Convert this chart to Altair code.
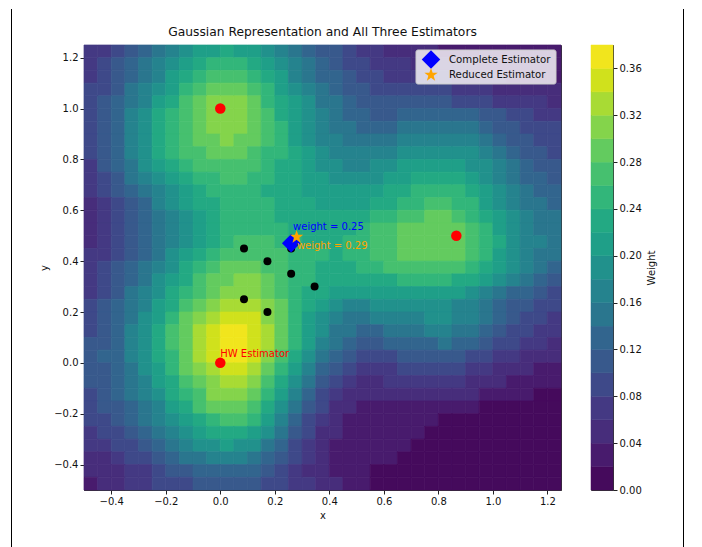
import altair as alt
import pandas as pd

TITLE = "Gaussian Representation and All Three Estimators"
FONT = "DejaVu Sans"

# Contour band (0-i = 0.00-0.02 ... 0.36-0.38),
# one string per 0.05-wide row, top row first.
BANDS = [
    "33456 789aa baa98 76554 33222 21111 11111",
    "34567 89abc ccba9 87654 43332 22221 11111",
    "34567 8abcd ddcba 87665 44333 33222 21111",
    "44578 9acde eedca 98765 54444 44333 22222",
    "45678 abdef ffecb a9776 55555 55444 33332",
    "45689 bcdef ffedb a9876 65566 66665 54433",
    "45689 bcdef ffedc a9877 66677 77776 55444",
    "45689 bcdee feedc a9887 77788 88887 65544",
    "45689 bcdde eedcc ba988 88899 99998 76554",
    "35679 abcdd dddcb ba998 899aa aaa99 87655",
    "34578 9abcc ddccb baa99 99aab bbba9 87665",
    "34567 89abc cccbb baaaa aabbc cccba 98766",
    "23456 89abb ccccb bbaaa abbcc ddcca 98776",
    "23456 789ab ccccb bbbbb bccdd eedcb a9877",
    "23456 789ab ccccc bbbbb cddee eeedc a9877",
    "23456 789ab cdddc cbbbc cddee eeedc b9887",
    "33456 79abc ddddd cccbc cddee eeedc a9877",
    "34567 89bcd eeedd ccbbb ccddd dddcb a9876",
    "34567 9abde effed ccbbb bbbcc ccbba 98765",
    "34578 9bcde fffed cbbaa aaaaa aaa98 76654",
    "45678 abdef gggfe cba98 89999 99887 65544",
    "45679 acefg hhhfe ca987 78888 99887 65443",
    "45689 bdegh iihge ca977 66777 88776 54433",
    "55689 bdegh iihge ca876 55666 67665 44332",
    "56689 bcegh iihfd b9765 44455 55544 33222",
    "55679 acefg hhgec a8654 33344 44433 22211",
    "55678 abdef ggfdb 97543 22333 33322 21111",
    "45678 9bcdf ffeca 86432 22222 22221 11100",
    "45567 8abde eedb9 75422 11111 11110 00000",
    "44567 89abc ddca8 64321 11111 10000 00000",
    "34456 789ab bba97 54221 11111 00000 00000",
    "33445 67899 a9976 43211 11110 00000 00000",
    "22344 56778 88765 43211 11100 00000 00000",
    "22233 45566 66654 32211 10000 00000 00000",
    "12233 44455 55544 33221 10000 00000 00000",
]
BAND_COLORS = ["#450a5c", "#481b6d", "#472d7b", "#443983", "#3e4989", "#38598c",
               "#32658e", "#2a768e", "#25838e", "#21918c", "#1f9f88", "#23a983",
               "#32b67a", "#46c06f", "#63cb5f", "#84d44b", "#a8db34", "#d0e11c",
               "#f1e51d"]
DIGITS = "0123456789abcdefghi"

X_TICKS = [-0.4, -0.2, 0.0, 0.2, 0.4, 0.6, 0.8, 1.0, 1.2]
Y_TICKS = [-0.4, -0.2, 0.0, 0.2, 0.4, 0.6, 0.8, 1.0, 1.2]
BAR_TICKS = [0.0, 0.04, 0.08, 0.12, 0.16, 0.20, 0.24, 0.28, 0.32, 0.36]

RED_X = [0.0, 0.0, 0.866]
RED_Y = [0.0, 1.0, 0.5]
BLACK_X = [0.087, 0.173, 0.26, 0.26, 0.346, 0.087, 0.173]
BLACK_Y = [0.45, 0.40, 0.45, 0.35, 0.30, 0.25, 0.20]
COMPLETE = (0.26, 0.47)
REDUCED = (0.28, 0.495)
LABELS = [("weight = 0.25", 0.267, 0.534, "blue"),
          ("weight = 0.29", 0.281, 0.46, "orange"),
          ("HW Estimator", 0.0, 0.035, "red")]
STAR = "M0,-1 L0.235,-0.324 L0.951,-0.309 L0.38,0.124 L0.588,0.809 L0,0.4 L-0.588,0.809 L-0.38,0.124 L-0.951,-0.309 L-0.235,-0.324 Z"

W, H = 477, 445
rows = []
for r, text in enumerate(BANDS):
    text = text.replace(" ", "")
    assert len(text) == 35, (r, len(text))
    for c, ch in enumerate(text):
        rows.append({"x": -0.5 + 0.05 * c, "x2": -0.45 + 0.05 * c,
                     "y": 1.25 - 0.05 * r, "y2": 1.2 - 0.05 * r,
                     "band": DIGITS.index(ch)})
cells = pd.DataFrame(rows)

xs = alt.Scale(domain=[-0.5, 1.25], nice=False, zero=False)
ys = alt.Scale(domain=[-0.5, 1.25], nice=False, zero=False)
band_scale = alt.Scale(domain=list(range(19)), range=BAND_COLORS)
band_color = alt.Color("band:O", scale=band_scale, legend=None)
band_stroke = alt.Stroke("band:O", scale=band_scale, legend=None)

field = alt.Chart(cells).mark_rect(strokeWidth=0.7).encode(
    x=alt.X("x:Q", scale=xs, title="x",
            axis=alt.Axis(values=X_TICKS, format=".1f", grid=False, labelFlush=False)),
    x2="x2:Q",
    y=alt.Y("y:Q", scale=ys, title="y",
            axis=alt.Axis(values=Y_TICKS, format=".1f", grid=False)),
    y2="y2:Q",
    color=band_color,
    stroke=band_stroke,
)

red = alt.Chart(pd.DataFrame({"x": RED_X, "y": RED_Y})).mark_point(
    filled=True, shape="circle", size=110, color="red", opacity=1).encode(
    x=alt.X("x:Q", scale=xs), y=alt.Y("y:Q", scale=ys))
black = alt.Chart(pd.DataFrame({"x": BLACK_X, "y": BLACK_Y})).mark_point(
    filled=True, shape="circle", size=64, color="black", opacity=1).encode(
    x=alt.X("x:Q", scale=xs), y=alt.Y("y:Q", scale=ys))
complete = alt.Chart(pd.DataFrame({"x": [COMPLETE[0]], "y": [COMPLETE[1]]})).mark_point(
    filled=True, shape="diamond", size=340, color="blue", opacity=1).encode(
    x=alt.X("x:Q", scale=xs), y=alt.Y("y:Q", scale=ys))
reduced = alt.Chart(pd.DataFrame({"x": [REDUCED[0]], "y": [REDUCED[1]]})).mark_point(
    filled=True, shape=STAR, size=196, color="orange", opacity=1).encode(
    x=alt.X("x:Q", scale=xs), y=alt.Y("y:Q", scale=ys))
notes = alt.Chart(pd.DataFrame(LABELS, columns=["t", "x", "y", "c"])).mark_text(
    align="left", baseline="middle", fontSize=10, font=FONT).encode(
    x=alt.X("x:Q", scale=xs), y=alt.Y("y:Q", scale=ys), text="t:N",
    color=alt.Color("c:N", scale=None, legend=None))

# title, legend box, frame: decoration placed in pixels
title_mark = alt.Chart(pd.DataFrame({"t": [TITLE]})).mark_text(
    align="center", baseline="middle", fontSize=12.3, font=FONT, color="#111").encode(
    x=alt.value(W / 2), y=alt.value(-13), text="t:N")
legend_box = alt.Chart(pd.DataFrame({"a": [0]})).mark_rect(
    fill="white", fillOpacity=0.8, stroke="#cccccc", strokeWidth=1, cornerRadius=2).encode(
    x=alt.value(332), x2=alt.value(472), y=alt.value(5), y2=alt.value(39))
leg_d = alt.Chart(pd.DataFrame({"a": [0]})).mark_point(
    filled=True, shape="diamond", size=340, color="blue", opacity=1).encode(
    x=alt.value(347), y=alt.value(14.5))
leg_s = alt.Chart(pd.DataFrame({"a": [0]})).mark_point(
    filled=True, shape=STAR, size=196, color="orange", opacity=1).encode(
    x=alt.value(347), y=alt.value(30))
leg_t1 = alt.Chart(pd.DataFrame({"t": ["Complete Estimator"]})).mark_text(
    align="left", baseline="middle", fontSize=10.2, font=FONT, color="#111").encode(
    x=alt.value(365), y=alt.value(14.5), text="t:N")
leg_t2 = alt.Chart(pd.DataFrame({"t": ["Reduced Estimator"]})).mark_text(
    align="left", baseline="middle", fontSize=10.2, font=FONT, color="#111").encode(
    x=alt.value(365), y=alt.value(29.5), text="t:N")
frame = [
    alt.Chart(pd.DataFrame({"a": [0]})).mark_rule(color="black", strokeWidth=1).encode(
        x=alt.value(-72.5), y=alt.value(-36), y2=alt.value(502.5)),
    alt.Chart(pd.DataFrame({"a": [0]})).mark_rule(color="black", strokeWidth=1).encode(
        x=alt.value(599.5), y=alt.value(-36), y2=alt.value(502.5)),
    alt.Chart(pd.DataFrame({"a": [0]})).mark_rule(color="black", strokeWidth=1).encode(
        x=alt.value(-72.5), x2=alt.value(599.5), y=alt.value(502.5)),
]

main = alt.layer(field, red, black, complete, reduced, notes, title_mark, legend_box, leg_d, leg_s,
                 leg_t1, leg_t2, *frame).properties(width=W, height=H)

bar = pd.DataFrame({"band": list(range(19)),
                    "y": [0.02 * i for i in range(19)],
                    "y2": [0.02 * (i + 1) for i in range(19)]})
colorbar = alt.Chart(bar).mark_rect(strokeWidth=0.5).encode(
    y=alt.Y("y:Q", scale=alt.Scale(domain=[0, 0.38], nice=False), title="Weight",
            axis=alt.Axis(orient="right", values=BAR_TICKS, format=".2f", grid=False,
                          titleAngle=270, titlePadding=15)),
    y2="y2:Q",
    color=band_color,
    stroke=band_stroke,
).properties(width=22, height=H)

chart = alt.hconcat(main, colorbar, spacing=30, bounds="flush").properties(
    padding={"left": 2, "top": 0, "right": 0, "bottom": 0}
).resolve_scale(y="independent", x="independent").configure_axis(
    labelFont=FONT, titleFont=FONT, labelFontSize=10, titleFontSize=10, titleFontWeight="normal",
    labelColor="#111", titleColor="#111", tickColor="#222", domainColor="#333", tickSize=4,
).configure_view(stroke="#333")

chart.save("out.html", embed_options={"renderer": "svg", "actions": False})
